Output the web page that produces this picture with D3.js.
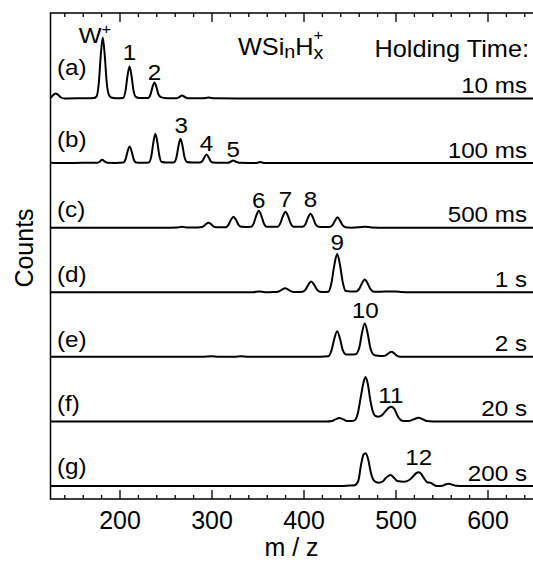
<!DOCTYPE html>
<html><head><meta charset="utf-8">
<script src="https://cdn.jsdelivr.net/npm/d3@7"></script>
<style>
html,body{margin:0;padding:0;background:#fff;}
svg{display:block;font-family:"Liberation Sans",Arial,Helvetica,sans-serif;}
</style></head><body>
<svg id="chart" width="533" height="563"></svg>
<script>
// ---------------- data ----------------
const panelLetters = ["(a)","(b)","(c)","(d)","(e)","(f)","(g)"];
const holdingTimes = ["10 ms","100 ms","500 ms","1 s","2 s","20 s","200 s"];
const xTickValues = [200,300,400,500,600];
const xMinorTickValues = [140,160,180,220,240,260,280,320,340,360,380,420,440,460,480,520,540,560,580,620,640];

// spectra: [m/z, counts (arb.)]
const spectrumA = [[125,0.5],[127.5,3],[130.5,5],[133.5,3.5],[136.5,1],[140,0],[160,0.2],[168,0.3],[172,0.4],[175,2],[177.6,16.5],[179.5,41.5],[181.8,61],[184.1,41.5],[186,17],[188.3,4],[191,1],[196,0.3],[204,0.6],[206.7,8.6],[208.6,21.8],[210.9,32],[213.2,21.8],[215.1,8.6],[217.8,1.5],[222,0.5],[231,0.4],[233.8,4.3],[235.7,10.9],[238,16],[240.3,10.9],[242.2,4.3],[245,1.3],[249,0.5],[256,0.2],[262,0.2],[265,1.5],[268,3],[271,1.5],[274,0.3],[290,0.2],[297,1],[303,0.2],[330,0],[650,0]];
const spectrumB = [[125,0.3],[140,0],[160,0.3],[172,0.3],[176,0.3],[178.5,1.5],[181.2,3.3],[184,1.5],[187,0.3],[196,0.2],[204,0.5],[206.8,4.5],[208.7,11.4],[211,16.7],[213.3,11.4],[215.2,4.5],[218,0.6],[224,0.3],[232,0.6],[234.8,7.9],[236.7,20],[239,29.4],[241.3,20],[243.2,7.9],[246,1],[251,0.5],[259,0.6],[262.1,6.6],[264,16.6],[266.3,24.4],[268.6,16.6],[270.5,6.6],[273.5,1],[279,0.5],[287.5,0.5],[290.4,2.4],[292.3,5.9],[294.6,8.7],[296.9,5.9],[298.8,2.4],[301.5,0.5],[310,0.3],[317.5,0.3],[320.8,1.3],[323.6,2.7],[326.5,1.3],[330,0.3],[340,0.2],[349,0.2],[353,1],[357,0.2],[370,0],[650,0]];
const spectrumC = [[125,0],[200,0],[255,0],[263,0.1],[268,1],[273,0.1],[284,0.2],[288,0.3],[291.2,1.3],[293.9,3.5],[296.7,5],[299.5,3.5],[302.2,1.3],[305,0.4],[310,0.5],[315.5,0.5],[318.4,2.8],[321.1,7.7],[323.9,11],[326.7,7.7],[329.4,2.8],[332.5,0.8],[338,0.7],[343,0.8],[345.9,4.3],[348.6,11.9],[351.4,17],[354.2,11.9],[356.9,4.3],[360,1],[366,1],[372,1],[374.9,4.5],[377.6,11.5],[380.4,16],[383.2,11.5],[385.9,4.5],[389,1],[394,0.8],[399,1],[402.1,3.5],[404.8,9.8],[407.6,14],[410.4,9.8],[413.1,3.5],[416.5,0.8],[422,0.6],[428,0.6],[431.5,2.5],[434.2,7],[437,10.5],[439.8,7],[442.5,2.5],[445.5,0.4],[452,0],[460,0.3],[467,1],[474,0.2],[490,0],[650,0]];
const spectrumD = [[125,0],[200,0],[300,0],[345,0],[352,0.8],[358,0],[366,0.2],[370.5,0.3],[374,1.1],[376.7,2.7],[380,4],[383.3,2.7],[386,1.1],[389.5,0.3],[395,0.3],[399,0.4],[402.4,2.9],[405.1,7.3],[408.4,10.7],[411.7,7.3],[414.4,2.9],[418,0.5],[422,0.3],[427,0.6],[430.6,10.3],[433.3,26],[436.6,38.3],[439.9,26],[442.6,10.3],[446,1.2],[451,0.8],[457,0.8],[460.6,3.4],[463.3,8.6],[466.6,12.7],[469.9,8.6],[472.6,3.4],[476.5,0.6],[484,0.5],[492,0.8],[500,0.7],[507,0.2],[515,0],[650,0]];
const spectrumE = [[125,0],[290,0],[300,0.5],[308,0],[325,0],[332,0.5],[340,0],[400,0],[418,0.2],[427,0.6],[430.6,7],[433.3,17.4],[436.6,25.6],[439.9,17.4],[442.6,7],[446.5,2.3],[451,2.3],[456.5,2.5],[460.6,9],[463.3,22.6],[466.6,33.3],[469.9,22.6],[472.6,9],[476.5,2],[481,1],[486,0.8],[490,1.8],[492.6,3.6],[495.6,5],[498.6,3.4],[501.5,1.3],[505,0.2],[515,0],[650,0]];
const spectrumF = [[125,0],[425,0],[431,0.5],[434.5,2],[439,3.3],[443.5,2],[447,0.5],[452,0.3],[455.5,1],[459,8],[462.2,24],[465,38],[467.4,44.3],[469.8,38],[472.5,22],[475.3,10],[478,5.5],[481.7,4.7],[485,6],[489,10],[492.5,13.5],[495.6,14.7],[498.7,12.5],[502,6],[505.5,1.5],[509,0.3],[514,0.3],[519.5,2],[525,3.7],[530,2],[534,0.3],[540,0],[650,0]];
const spectrumG = [[125,0],[440,0],[450,0.5],[455.5,0.8],[459.5,5],[462.7,22],[465.3,31.5],[467.5,32.7],[470.2,27],[473.3,13],[477,5],[481.6,3.3],[486,4.5],[490,8.5],[494.6,11],[498,8.5],[502,5],[509,4.3],[515,6],[519,9.5],[522.5,12.8],[525.3,13.7],[528,12],[531.5,7],[535,3.5],[538,3.3],[542,1],[545,0],[551,0.3],[554,1.5],[558,2.3],[562,1.2],[566,0.2],[575,0],[650,0]];

// labelled peaks: panel index, label, m/z of the peak
const peakPanels = [0,0,1,1,1,2,2,2,3,4,5,6];
const peakTexts  = ["1","2","3","4","5","6","7","8","9","10","11","12"];
const peakMz     = [210.9,238,267,294.6,323.6,351.4,380.4,407.6,436.6,467,495,525.3];

// ---------------- layout ----------------
const frame = {left:50.5, top:13, bottom:499, right:534.5};
const peakLabelDy = [-39,-18.5,-30,-12,-6,-19.7,-20.5,-20.5,-42,-39,-18.5,-21];
const panelLabelDy = [-24,-16,-11,-10.5,-10,-10.5,-12];
const SX = 1.1; // horizontal stretch of the annotation font

const svg = d3.select("#chart");
const x = d3.scaleLinear().domain([125,650]).range([50.5,533.5]);
const base = d3.scalePoint().domain(panelLetters).range([98.5,486]);
const yI = d3.scaleLinear().domain([0,65]).range([0,-65]);
const spectra = [spectrumA,spectrumB,spectrumC,spectrumD,spectrumE,spectrumF,spectrumG];

function label(parent, px, py, str, size, anchor, sx){
  return parent.append("text")
    .attr("transform",`translate(${px},${py}) scale(${sx===undefined?SX:sx},1)`)
    .attr("text-anchor",anchor||"start")
    .style("font-size",size+"px")
    .attr("fill","#000")
    .text(str);
}

// frame
svg.append("rect").attr("x",frame.left).attr("y",frame.top)
  .attr("width",frame.right-frame.left).attr("height",frame.bottom-frame.top)
  .attr("fill","none").attr("stroke","#000").attr("stroke-width",1.5);

// axes
function styleAxis(g){
  g.select(".domain").remove();
  g.selectAll("line").attr("stroke","#000").attr("stroke-width",1.3);
  g.attr("font-family","Liberation Sans, Arial, sans-serif");
}
const axB = svg.append("g").attr("transform",`translate(0,${frame.bottom})`)
  .call(d3.axisBottom(x).tickValues(xTickValues).tickSizeInner(-9).tickSizeOuter(0).tickPadding(12));
styleAxis(axB);
axB.selectAll("text").style("font-size","25px").attr("fill","#000");
const axBm = svg.append("g").attr("transform",`translate(0,${frame.bottom})`)
  .call(d3.axisBottom(x).tickValues(xMinorTickValues).tickSizeInner(-4).tickSizeOuter(0).tickFormat(""));
styleAxis(axBm);
const axT = svg.append("g").attr("transform",`translate(0,${frame.top})`)
  .call(d3.axisTop(x).tickValues(xTickValues).tickSizeInner(-9).tickSizeOuter(0).tickFormat(""));
styleAxis(axT);
const axTm = svg.append("g").attr("transform",`translate(0,${frame.top})`)
  .call(d3.axisTop(x).tickValues(xMinorTickValues).tickSizeInner(-4).tickSizeOuter(0).tickFormat(""));
styleAxis(axTm);

// traces
const line = d3.line().x(d=>x(d[0])).y(d=>yI(d[1])).curve(d3.curveMonotoneX);
panelLetters.forEach((p,i)=>{
  const g = svg.append("g").attr("transform",`translate(0,${base(p)})`);
  g.append("path").attr("d",line(spectra[i])).attr("fill","none")
    .attr("stroke","#000").attr("stroke-width",2).attr("stroke-linejoin","round");
  label(svg, 57, base(p)+panelLabelDy[i], p, 22, "start");
  label(svg, 527, base(p)-5.5, holdingTimes[i], 22, "end");
});

// peak labels
peakTexts.forEach((t,i)=>{
  label(svg, x(peakMz[i]), base(panelLetters[peakPanels[i]])+peakLabelDy[i], t, 22, "middle");
});

// W+ label
const wl = label(svg, x(181.8)-24, base(panelLetters[0])-56, "", 22, "start");
wl.append("tspan").text("W");
wl.append("tspan").style("font-size","15px").attr("dy",-9).text("+");

// title WSi_nH_x^+
const tt = label(svg, 238, 55, "", 23, "start");
tt.append("tspan").text("WSi");
tt.append("tspan").style("font-size","18px").attr("dy",3).text("n");
tt.append("tspan").attr("dy",-3).text("H");
tt.append("tspan").style("font-size","18px").attr("dy",4).text("x");
tt.append("tspan").style("font-size","15px").attr("dx",-9).attr("dy",-19).text("+");

label(svg, 529, 57, "Holding Time:", 23, "end");

// axis titles
svg.append("text").attr("transform","translate(33,248) rotate(-90)")
  .attr("text-anchor","middle").style("font-size","25px").attr("fill","#000").text("Counts");
svg.append("text").attr("x",291.5).attr("y",556)
  .attr("text-anchor","middle").style("font-size","25px").attr("fill","#000").text("m / z");
</script>
</body></html>
